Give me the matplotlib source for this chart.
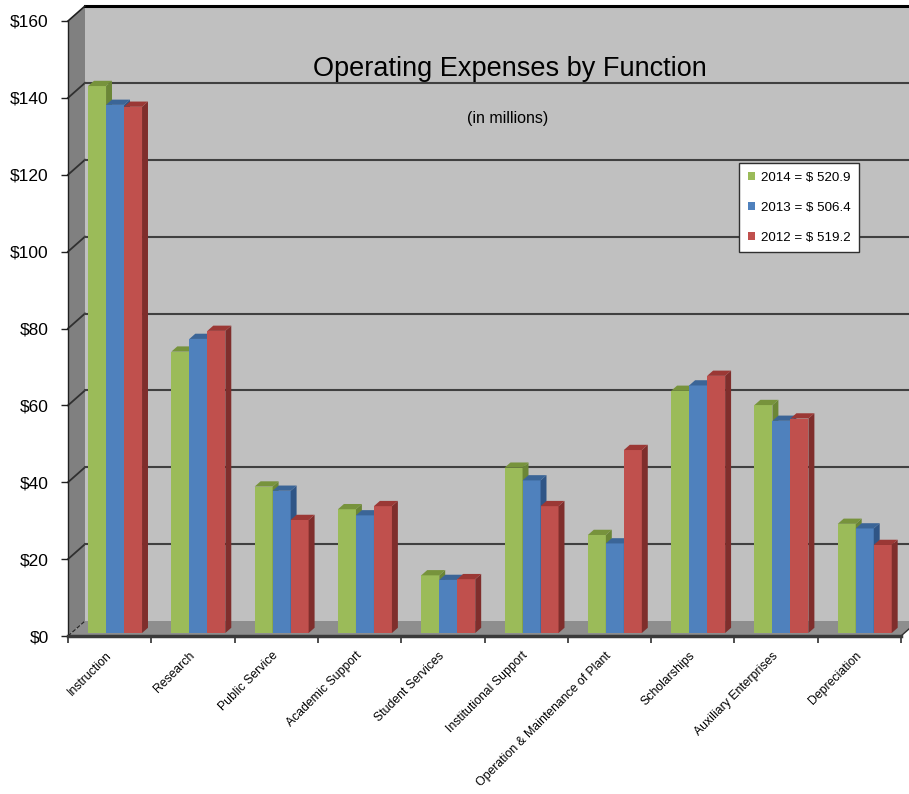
import numpy as np
import matplotlib
matplotlib.use("Agg")
import matplotlib.pyplot as plt
from matplotlib.patches import Polygon, Patch

# Les données (en millions)
categories = ["Instruction", "Research", "Public Service", "Academic Support",
              "Student Services", "Institutional Support",
              "Operation & Maintenance of Plant", "Scholarships",
              "Auxiliary Enterprises", "Depreciation"]
values_2014 = [142.3, 73.2, 38.1, 32.2, 15.0, 43.0, 25.5, 63.0, 59.3, 28.4]
values_2013 = [137.4, 76.5, 37.0, 30.6, 13.8, 39.7, 23.3, 64.4, 55.2, 27.2]
values_2012 = [136.9, 78.6, 29.4, 33.0, 14.0, 33.0, 47.6, 66.9, 55.8, 22.9]
series_labels = ["2014 = $ 520.9", "2013 = $ 506.4", "2012 = $ 519.2"]
yticks = [0, 20, 40, 60, 80, 100, 120, 140, 160]

front_colors = ["#9bbb59", "#4f81bd", "#c0504d"]
top_colors = ["#77933c", "#3b6597", "#9b3835"]
side_colors = ["#6b8636", "#2f5586", "#7f2e2c"]

plt.rcParams['font.family'] = ['Liberation Sans', 'DejaVu Sans']

fig = plt.figure(figsize=(9.09, 7.94), dpi=100)
ax = fig.add_axes([68 / 909, (794 - 636) / 794, 833 / 909, 615 / 794])
ax.set_xlim(0, 10)
ax.set_ylim(0, 160)
ax.set_facecolor('none')

# profondeur "3D"
DX, DY = 0.204, 3.9
t0, t1 = 0.2, 0.55
n = len(categories)

def proj(x, v, t):
    return (x + t * DX, v + t * DY)

# Murs et sol
side_wall = Polygon([proj(0, 0, 0), proj(0, 0, 1), proj(0, 160, 1), proj(0, 160, 0)],
                    closed=True, facecolor='#808080', edgecolor='none', zorder=0.5, clip_on=False)
back_wall = Polygon([proj(0, 0, 1), proj(n, 0, 1), proj(n, 160, 1), proj(0, 160, 1)],
                    closed=True, facecolor='#c0c0c0', edgecolor='none', zorder=0.4, clip_on=False)
floor = Polygon([proj(0, 0, 0), proj(0, 0, 1), proj(n, 0, 1), proj(n, 0, 0)],
                closed=True, facecolor='#8e8e8e', edgecolor='none', zorder=0.6, clip_on=False)
for p in (back_wall, side_wall, floor):
    ax.add_patch(p)

# Lignes de grille (mur du fond + diagonales sur le mur de côté)
for v in yticks[1:-1]:
    ax.plot([0, DX], [v, v + DY], color='#303030', lw=1.3, zorder=0.8, clip_on=False)
    ax.plot([DX, n + DX], [v + DY, v + DY], color='#404040', lw=1.5, zorder=0.8, clip_on=False)
ax.plot([DX, n + DX], [160 + DY, 160 + DY], color='black', lw=2.2, zorder=0.8, clip_on=False)
ax.plot([0, DX], [160, 160 + DY], color='#202020', lw=1.2, zorder=0.8, clip_on=False)
ax.plot([0, DX], [0, DY], color='#202020', lw=0.8, ls='--', zorder=0.8, clip_on=False)
ax.plot([n, n + DX], [0, DY], color='#303030', lw=1.0, zorder=0.8, clip_on=False)

# Barres
width = 0.216
x_base = np.arange(n) + 0.2
for j, vals in enumerate([values_2014, values_2013, values_2012]):
    x0 = x_base + j * width + t0 * DX
    ax.bar(x0, vals, width=width, bottom=t0 * DY, align='edge',
           color=front_colors[j], edgecolor='none', zorder=3 + j)
    for i, v in enumerate(vals):
        xl = x_base[i] + j * width
        xr = xl + width
        side = Polygon([proj(xr, 0, t0), proj(xr, 0, t1), proj(xr, v, t1), proj(xr, v, t0)],
                       closed=True, facecolor=side_colors[j], edgecolor='none', zorder=3 + j)
        top = Polygon([proj(xl, v, t0), proj(xr, v, t0), proj(xr, v, t1), proj(xl, v, t1)],
                      closed=True, facecolor=top_colors[j], edgecolor='none', zorder=3 + j)
        ax.add_patch(side)
        ax.add_patch(top)

# Axes
for s in ['top', 'right']:
    ax.spines[s].set_visible(False)
ax.spines['left'].set_color('#202020')
ax.spines['left'].set_linewidth(1.0)
ax.spines['bottom'].set_color('#3a3a3a')
ax.spines['bottom'].set_linewidth(2.5)
ax.spines['left'].set_zorder(10)
ax.spines['bottom'].set_zorder(10)

ax.set_yticks(yticks)
ax.set_yticklabels([f"${v}" for v in yticks], fontsize=12.5)
ax.tick_params(axis='y', length=5, width=1, pad=9, color='#202020')

ax.set_xticks(np.arange(n + 1))
ax.set_xticklabels([])
ax.tick_params(axis='x', which='major', length=5, width=1.2, color='#303030', direction='out')
ax.set_xticks(np.arange(n) + 0.5, minor=True)
ax.set_xticklabels(categories, minor=True, rotation=45, ha='right', va='center',
                   rotation_mode='anchor', fontsize=8.8)
ax.tick_params(axis='x', which='minor', length=0, pad=13)

# Titres
fig.text(510 / 909, 1 - 69 / 794, "Operating Expenses by Function", ha='center', va='center',
         fontsize=19.5)
fig.text(508 / 909, 1 - 119 / 794, "(in millions)", ha='center', va='center',
         fontsize=11.5)

# Légende
handles = [Patch(facecolor=c, edgecolor='none') for c in front_colors]
leg = ax.legend(handles, series_labels, loc='upper left',
                bbox_to_anchor=(739 / 909, 1 - 163 / 794), bbox_transform=fig.transFigure,
                fontsize=9.6, frameon=True, fancybox=False, framealpha=1,
                edgecolor='#303030', handlelength=0.55, handleheight=0.55,
                handletextpad=0.45, labelspacing=1.35, borderpad=0.65, borderaxespad=0)
leg.get_frame().set_linewidth(1.0)
leg.set_zorder(20)

fig.savefig("out.png", dpi=100, facecolor='white')
